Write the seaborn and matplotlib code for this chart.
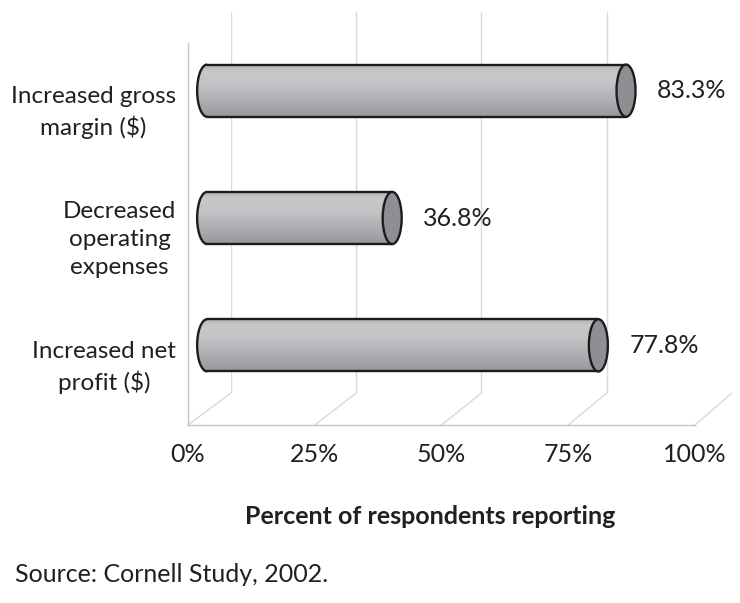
import numpy as np
import matplotlib
matplotlib.use("Agg")
import matplotlib.pyplot as plt
import seaborn as sns
from matplotlib.patches import Ellipse, Arc, PathPatch, ConnectionPatch
from matplotlib.path import Path
from matplotlib.colors import LinearSegmentedColormap

# ---- data -------------------------------------------------------------
categories = ["Increased gross\nmargin ($)",
              "Decreased\noperating\nexpenses",
              "Increased net\nprofit ($)"]
values = [83.3, 36.8, 77.8]
x_ticks = [0, 25, 50, 75, 100]
x_tick_labels = ["0%", "25%", "50%", "75%", "100%"]
x_title = "Percent of respondents reporting"
source_note = "Source: Cornell Study, 2002."

# ---- style ------------------------------------------------------------
sns.set_style("white")
plt.rcParams["font.family"] = ["Lato", "DejaVu Sans"]
TEXT = "#231f20"
FRAME = "#c4c4c4"
GRID = "#d9d9d9"
OUTLINE = "#1c1c1c"

W, H = 740, 603
fig = plt.figure(figsize=(W / 100, H / 100), dpi=100)


def px_axes(left, top, right, bottom):
    """Axes placed by pixel box (origin top-left)."""
    return fig.add_axes([left / W, (H - bottom) / H, (right - left) / W, (bottom - top) / H])


# back wall (gridlines), front plane (axes, ticks), mid plane (cylinders)
ax_back = px_axes(231, 12, 732, 393)
ax_front = px_axes(188, 43, 695, 425)
ax_bar = px_axes(182, 27, 710, 409)   # x range -5..100, zero at 207 px
for a in (ax_back, ax_front, ax_bar):
    a.patch.set_visible(False)

# back wall gridlines
ax_back.set_xlim(0, 100)
ax_back.set_ylim(0, 1)
for t in x_ticks[:-1]:
    ax_back.axvline(t, color=GRID, lw=1.0)
ax_back.axis("off")

# front plane: floor edge, left axis, ticks, labels
ax_front.set_xlim(0, 100)
ax_front.set_ylim(len(categories) - 0.5, -0.5)
for s in ("top", "right"):
    ax_front.spines[s].set_visible(False)
for s in ("left", "bottom"):
    ax_front.spines[s].set_color(FRAME)
    ax_front.spines[s].set_linewidth(1.0)
ax_front.set_xticks(x_ticks, labels=x_tick_labels)
ax_front.tick_params(axis="x", direction="out", length=5, width=1.0, color=FRAME,
                     labelsize=18, labelcolor=TEXT, pad=8)
ax_front.set_yticks(range(len(categories)), labels=categories)
ax_front.set_yticks(np.arange(-0.5, len(categories), 1.0), minor=True)
ax_front.tick_params(axis="y", which="major", length=0, labelsize=17.5, labelcolor=TEXT, pad=8.5)
ax_front.tick_params(axis="y", which="minor", direction="out", length=6, width=1.0, color=FRAME)
for lab in ax_front.get_yticklabels():
    lab.set_multialignment("center")
    lab.set_linespacing(1.42)

# floor depth lines joining front ticks to the back wall
for t in x_ticks:
    con = ConnectionPatch(xyA=(t, len(categories) - 0.5), coordsA=ax_front.transData,
                          xyB=(t, 0), coordsB=ax_back.transData,
                          color=GRID, lw=1.0, zorder=0)
    ax_back.add_artist(con)

# ---- cylinders --------------------------------------------------------
XMIN = -5
sns.barplot(x=values, y=categories, orient="h", ax=ax_bar, width=0.41,
            color="#b7b8bb", saturation=1, edgecolor="none")
ax_bar.set_xlim(XMIN, 100)
ax_bar.set_ylim(len(categories) - 0.5, -0.5)

fig.canvas.draw()
bb = ax_bar.get_window_extent()
cap = 10 * (100 - XMIN) / bb.width  # cap half-width in data units (10 px)

shade = LinearSegmentedColormap.from_list(
    "cyl", [(0.0, "#b3b4b7"), (0.15, "#c7c8ca"), (0.38, "#c3c4c6"),
            (0.72, "#abacaf"), (1.0, "#97989c")])
grad = np.linspace(0, 1, 256).reshape(-1, 1)

for p, v in zip(list(ax_bar.patches), values):
    x0, y0, h = p.get_x(), p.get_y(), p.get_height()
    x1 = x0 + p.get_width()
    yc = y0 + h / 2
    p.set_visible(False)
    th = np.radians(np.linspace(90, 270, 60))
    verts = [(x0, y0), (x1, y0), (x1, y0 + h), (x0, y0 + h)]
    verts += [(x0 + cap * np.cos(a), yc + h / 2 * np.sin(a)) for a in th]
    verts.append((x0, y0))
    body = PathPatch(Path(verts, closed=True), facecolor="none", edgecolor="none")
    ax_bar.add_patch(body)
    im = ax_bar.imshow(grad, extent=(x0 - cap, x1, y0 + h, y0), origin="upper",
                       aspect="auto", cmap=shade, zorder=2)
    im.set_clip_path(body)
    ax_bar.plot([x0, x1], [y0, y0], color=OUTLINE, lw=1.7, zorder=3,
                solid_capstyle="round")
    ax_bar.plot([x0, x1], [y0 + h, y0 + h], color=OUTLINE, lw=1.7, zorder=3,
                solid_capstyle="round")
    ax_bar.add_patch(Arc((x0, yc), 2 * cap, h, theta1=90, theta2=270,
                         color=OUTLINE, lw=1.7, zorder=3))
    ax_bar.add_patch(Ellipse((x1, yc), 2 * cap * 0.95, h, facecolor="#8e8f93",
                             edgecolor=OUTLINE, lw=1.7, zorder=4))
    ax_bar.annotate(f"{v:.1f}%", xy=(x1, yc), xytext=(31, 0), textcoords="offset pixels",
                    ha="left", va="center", fontsize=18, color=TEXT)

ax_bar.set_xlim(XMIN, 100)
ax_bar.set_ylim(len(categories) - 0.5, -0.5)
ax_bar.axis("off")

# ---- titles -------------------------------------------------------------
fig.text(430 / W, 1 - 517 / H, x_title, ha="center", va="center",
         fontsize=18, fontweight="bold", color=TEXT)
fig.text(15 / W, 1 - 575 / H, source_note, ha="left", va="center",
         fontsize=18, color=TEXT)

fig.savefig("out.png", dpi=100)
